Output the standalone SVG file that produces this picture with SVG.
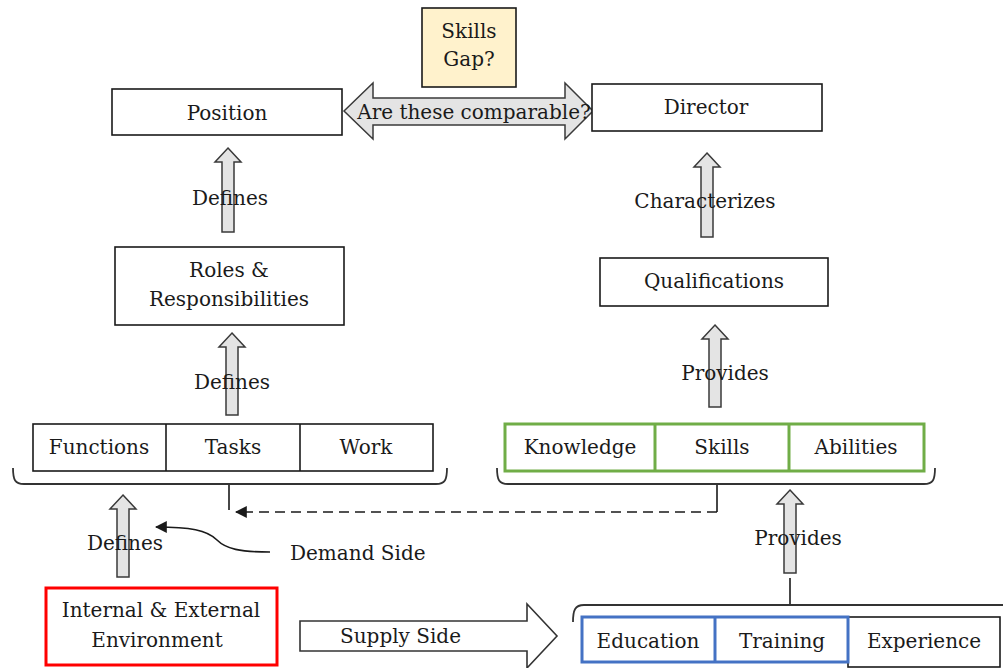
<svg xmlns="http://www.w3.org/2000/svg" width="1003" height="668" viewBox="0 0 1003 668">
<style>
  text { font-family: "DejaVu Serif", "Liberation Serif", serif; font-size: 20px; fill: #1a1a1a; text-anchor: middle; }
  .box { fill: #ffffff; stroke: #1a1a1a; stroke-width: 1.6; }
  .div { stroke: #1a1a1a; stroke-width: 1.6; }
  .green { fill: #ffffff; stroke: #70AD47; stroke-width: 3; }
  .gdiv { stroke: #70AD47; stroke-width: 3; }
  .blue { fill: #ffffff; stroke: #4472C4; stroke-width: 3; }
  .bdiv { stroke: #4472C4; stroke-width: 3; }
  .red { fill: #ffffff; stroke: #FF0000; stroke-width: 3; }
  .uparrow { fill: #e4e4e4; stroke: #3a3a3a; stroke-width: 1.5; }
  .brace { fill: none; stroke: #333333; stroke-width: 1.8; }
  .line { fill: none; stroke: #1a1a1a; stroke-width: 1.6; }
</style>
<defs>
  <marker id="tri" viewBox="0 0 10 10" refX="9" refY="5" markerWidth="7" markerHeight="7" orient="auto" markerUnits="userSpaceOnUse">
    <path d="M0,0 L10,5 L0,10 z" fill="#1a1a1a"/>
  </marker>
  <marker id="tri2" viewBox="0 0 10 10" refX="9" refY="5" markerWidth="12" markerHeight="12" orient="auto" markerUnits="userSpaceOnUse">
    <path d="M0,0 L10,5 L0,10 z" fill="#1a1a1a"/>
  </marker>
</defs>

<g id="connectors">
  <!-- Skills gap double arrow -->
  <polygon class="uparrow" fill="#e0e0e0" points="344,111 373,83 373,98 565,98 565,83 593,111 565,139 565,125 373,125 373,139"/>
  <!-- up block arrows -->
  <polygon class="uparrow" points="228,148 241,162 234,162 234,232 222,232 222,162 215,162"/>
  <polygon class="uparrow" points="232,333 245,347 238,347 238,415 226,415 226,347 219,347"/>
  <polygon class="uparrow" points="123,495 136,509 129,509 129,577 117,577 117,509 110,509"/>
  <polygon class="uparrow" points="707,153 720,167 713,167 713,237 701,237 701,167 694,167"/>
  <polygon class="uparrow" points="715,325 728,339 721,339 721,407 709,407 709,339 702,339"/>
  <polygon class="uparrow" points="790,490 803,504 796,504 796,573 784,573 784,504 777,504"/>
  <!-- braces -->
  <path class="brace" d="M13,468 C13,480 15,484 24,484 L436,484 C445,484 447,480 447,468"/>
  <path class="brace" d="M229,484 L229,510"/>
  <path class="brace" d="M497,468 C497,480 499,484 508,484 L924,484 C933,484 935,480 935,468"/>
  <path class="brace" d="M717,484 L717,512"/>
  <path class="brace" d="M573,622 C573,610 575,605 584,605 L1003,605"/>
  <path class="brace" d="M790,578 L790,605"/>
  <!-- dashed arrow from supply to demand -->
  <path class="line" d="M717,512 L236,512" stroke-dasharray="10,6" marker-end="url(#tri2)"/>
  <!-- demand side curved arrow -->
  <path class="line" d="M270,552 C240,552 226,549 217,540 C207,530 190,527 156,527" marker-end="url(#tri2)"/>
  <!-- supply side arrow -->
  <polygon fill="#ffffff" stroke="#333333" stroke-width="1.6" points="300,621 527,621 527,604 557,636 527,668 527,651 300,651"/>
</g>

<g id="skills-gap">
  <rect x="422" y="8" width="94" height="79" fill="#FFF2CC" stroke="#1a1a1a" stroke-width="1.6"/>
  <text x="469" y="38">Skills</text>
  <text x="469" y="66">Gap?</text>
</g>
<g id="comparable-label"><text x="474" y="119">Are these comparable?</text></g>

<g id="position">
  <rect class="box" x="112" y="89" width="230" height="46"/>
  <text x="227" y="120">Position</text>
</g>
<g id="director">
  <rect class="box" x="592" y="84" width="230" height="47"/>
  <text x="706" y="114">Director</text>
</g>
<g id="roles">
  <rect class="box" x="115" y="247" width="229" height="78"/>
  <text x="229" y="277">Roles &amp;</text>
  <text x="229" y="306">Responsibilities</text>
</g>
<g id="qualifications">
  <rect class="box" x="600" y="258" width="228" height="48"/>
  <text x="714" y="288">Qualifications</text>
</g>

<g id="labels">
  <text x="230" y="205">Defines</text>
  <text x="232" y="389">Defines</text>
  <text x="125" y="550">Defines</text>
  <text x="705" y="208">Characterizes</text>
  <text x="725" y="380">Provides</text>
  <text x="798" y="545">Provides</text>
  <text x="290" y="560" style="text-anchor:start">Demand Side</text>
  <text x="340" y="643" style="text-anchor:start">Supply Side</text>
</g>

<g id="functions-tasks-work">
  <rect class="box" x="33" y="424" width="400" height="47"/>
  <line class="div" x1="166" y1="424" x2="166" y2="471"/>
  <line class="div" x1="300" y1="424" x2="300" y2="471"/>
  <text x="99" y="454">Functions</text>
  <text x="233" y="454">Tasks</text>
  <text x="366" y="454">Work</text>
</g>

<g id="knowledge-skills-abilities">
  <rect class="green" x="505" y="424" width="419" height="47"/>
  <line class="gdiv" x1="655" y1="424" x2="655" y2="471"/>
  <line class="gdiv" x1="789" y1="424" x2="789" y2="471"/>
  <text x="580" y="454">Knowledge</text>
  <text x="722" y="454">Skills</text>
  <text x="856" y="454">Abilities</text>
</g>

<g id="environment">
  <rect class="red" x="46" y="588" width="231" height="77"/>
  <text x="161" y="617">Internal &amp; External</text>
  <text x="157" y="647">Environment</text>
</g>

<g id="education-training-experience">
  <rect class="box" x="848" y="617" width="152" height="50"/>
  <rect class="blue" x="582" y="617" width="266" height="45"/>
  <line class="bdiv" x1="715" y1="617" x2="715" y2="662"/>
  <text x="648" y="648">Education</text>
  <text x="782" y="648">Training</text>
  <text x="924" y="648">Experience</text>
</g>
</svg>
